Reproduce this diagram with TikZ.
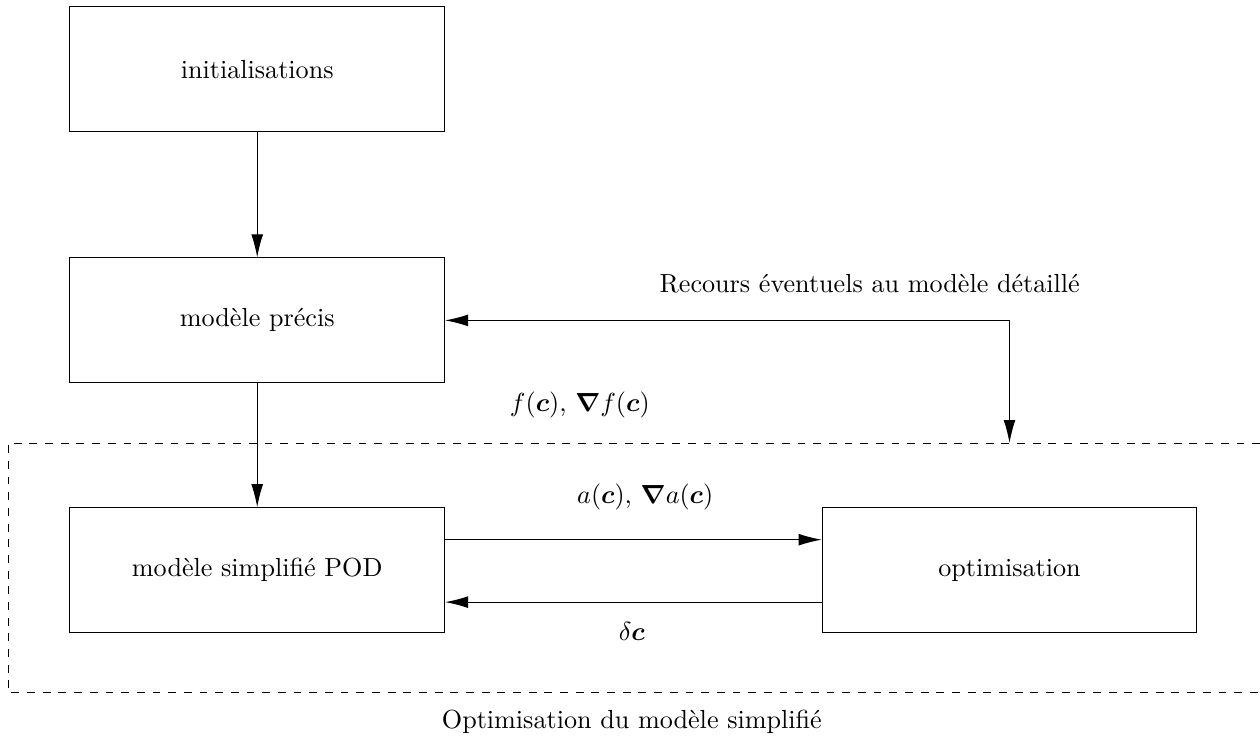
\documentclass[tikz,border=0pt]{standalone}
\usepackage{amsmath}
\usetikzlibrary{arrows.meta}

\begin{document}
\begin{tikzpicture}[
  bloc/.style={draw, minimum width=5.04cm, minimum height=1.68cm},
  fleche/.style={-{Latex[length=3.1mm,width=1.6mm]}},
  >={Latex[length=3.1mm,width=1.6mm]}
]
\useasboundingbox (0,0) rectangle (16.95,-10.02);
\node[bloc] (init) at (3.46,-0.93) {initialisations};
\node[bloc] (precis) at (3.46,-4.31) {modèle précis};
\node[bloc] (pod) at (3.46,-7.67) {modèle simplifié POD};
\node[bloc] (optim) at (13.58,-7.67) {optimisation};
\coordinate (cadre) at (13.58,-5.96);

\draw[dashed] (16.95,-5.96) -- (0.11,-5.96) -- (0.11,-9.32) -- (16.95,-9.32);

\draw[fleche] (init) -- (precis);
\draw[fleche] (precis) -- (pod);
\draw[<->] (cadre) |- (precis.east);
\draw[fleche] ([yshift=0.41cm]pod.east) -- ([yshift=0.41cm]optim.west);
\draw[fleche] ([yshift=-0.43cm]optim.west) -- ([yshift=-0.43cm]pod.east);

\node (recours) at (11.70,-3.81) {Recours éventuels au modèle détaillé};
\node (fc) at (7.80,-5.45) {$f(\boldsymbol{c})$, $\boldsymbol{\nabla} f(\boldsymbol{c})$};
\node (ac) at (8.68,-6.68) {$a(\boldsymbol{c})$, $\boldsymbol{\nabla} a(\boldsymbol{c})$};
\node (dc) at (8.50,-8.50) {$\delta\boldsymbol{c}$};
\node (titre) at (8.50,-9.71) {Optimisation du modèle simplifié};
\end{tikzpicture}
\end{document}
